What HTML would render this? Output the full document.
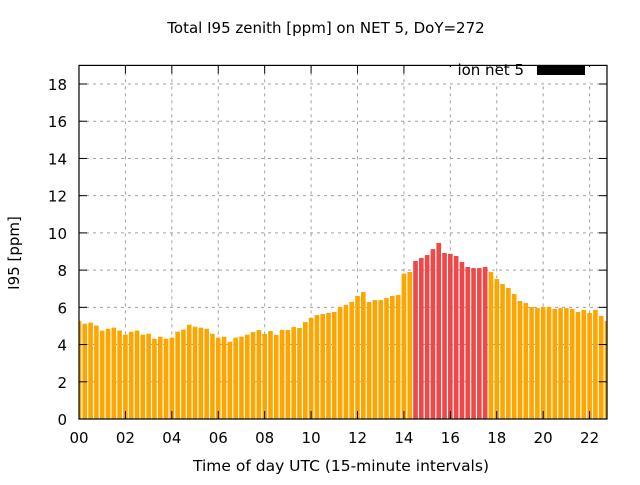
<!DOCTYPE html>
<html><head><meta charset="utf-8"><style>
body{margin:0;background:#fff}
svg text{font-family:"DejaVu Sans","Liberation Sans",sans-serif;font-size:15px;fill:#000}
</style></head><body>
<svg id="chart" width="640" height="480" viewBox="0 0 640 480" xmlns="http://www.w3.org/2000/svg">
<text x="326" y="33" text-anchor="middle">Total I95 zenith [ppm] on NET 5, DoY=272</text>
<text x="341" y="471" text-anchor="middle" style="font-size:15.5px">Time of day UTC (15-minute intervals)</text>
<text x="0" y="0" text-anchor="middle" transform="translate(19,253) rotate(-90)">I95 [ppm]</text>
<g id="grid"></g>
<g id="bars"></g>
<g id="axes"></g>
<g>
<rect x="448" y="67" width="150" height="15" fill="#fff"/>
<text x="524" y="75" text-anchor="end">ion net 5</text>
<rect x="537" y="65" width="48" height="10" fill="#000"/>
</g>
</svg>
<script>
const values=[5.27,5.12,5.18,5.02,4.75,4.85,4.91,4.75,4.53,4.69,4.75,4.53,4.58,4.31,4.42,4.31,4.37,4.69,4.80,5.07,4.96,4.91,4.85,4.58,4.37,4.42,4.15,4.37,4.42,4.53,4.67,4.78,4.57,4.73,4.51,4.78,4.78,4.94,4.89,5.21,5.43,5.59,5.64,5.70,5.75,6.02,6.13,6.29,6.61,6.82,6.29,6.39,6.39,6.50,6.61,6.66,7.81,7.90,8.49,8.65,8.81,9.13,9.46,8.92,8.87,8.76,8.44,8.17,8.11,8.11,8.17,7.90,7.52,7.25,7.04,6.72,6.34,6.23,6.02,5.96,6.02,6.02,5.91,5.96,5.96,5.91,5.75,5.86,5.70,5.86,5.54,5.27];
const highlightStart=58, highlightEnd=70;
const yTicks=[0,2,4,6,8,10,12,14,16,18];
const xTickLabels=["00","02","04","06","08","10","12","14","16","18","20","22"];
const X0=79,X1=607,Y0=419,Y1=65.4,XMAX=91,YMAX=19;
const sx=i=>X0+i*(X1-X0)/XMAX, sy=v=>Y0-v*(Y0-Y1)/YMAX;
const NS="http://www.w3.org/2000/svg";
function mk(t,a,p){const e=document.createElementNS(NS,t);for(const k in a)e.setAttribute(k,a[k]);p.appendChild(e);return e;}
const grid=document.getElementById('grid'),bars=document.getElementById('bars'),axes=document.getElementById('axes');
const bw=(X1-X0)/XMAX*0.8;
yTicks.forEach(v=>{const y=sy(v);
 if(v>0){const g=mk('line',{x1:X0,x2:X1,y1:y,y2:y,stroke:'#a0a0a0','stroke-dasharray':'3,4'},grid);
 
 }
 const t=mk('line',{x1:X0,x2:X0+8,y1:y,y2:y,stroke:'#000'},axes);
 
 
 mk('line',{x1:X1-8,x2:X1,y1:y,y2:y,stroke:'#000'},axes);
 const l=mk('text',{x:X0-12,y:y+6,'text-anchor':'end'},axes);l.textContent=v;
 
 
});
xTickLabels.forEach((s,k)=>{const x=sx(k*8);
 if(k>0){const g=mk('line',{x1:x,x2:x,y1:Y1,y2:Y0,stroke:'#a0a0a0','stroke-dasharray':'3,4'},grid);
 
 }
 mk('line',{x1:x,x2:x,y1:Y0,y2:Y0-8,stroke:'#000'},axes);
 mk('line',{x1:x,x2:x,y1:Y1,y2:Y1+8,stroke:'#000'},axes);
 const l=mk('text',{x:x,y:Y0+24,'text-anchor':'middle'},axes);l.textContent=s;
 
 
});
values.forEach((v,i)=>{
 let x=sx(i)-bw/2,w=bw;
 if(x<X0){w-=X0-x;x=X0;}
 if(x+w>X1){w=X1-x;}
 const red=i>=highlightStart&&i<=highlightEnd;
 const r=mk('rect',{x:x,y:sy(v),width:Math.max(w,0),height:Y0-sy(v),fill:red?'#f04848':'#ffa500'},bars);
 
 
});
const b=mk('rect',{x:X0,y:Y1,width:X1-X0,height:Y0-Y1,fill:'none',stroke:'#000','stroke-width':1.2},axes);


</script>
</body></html>
